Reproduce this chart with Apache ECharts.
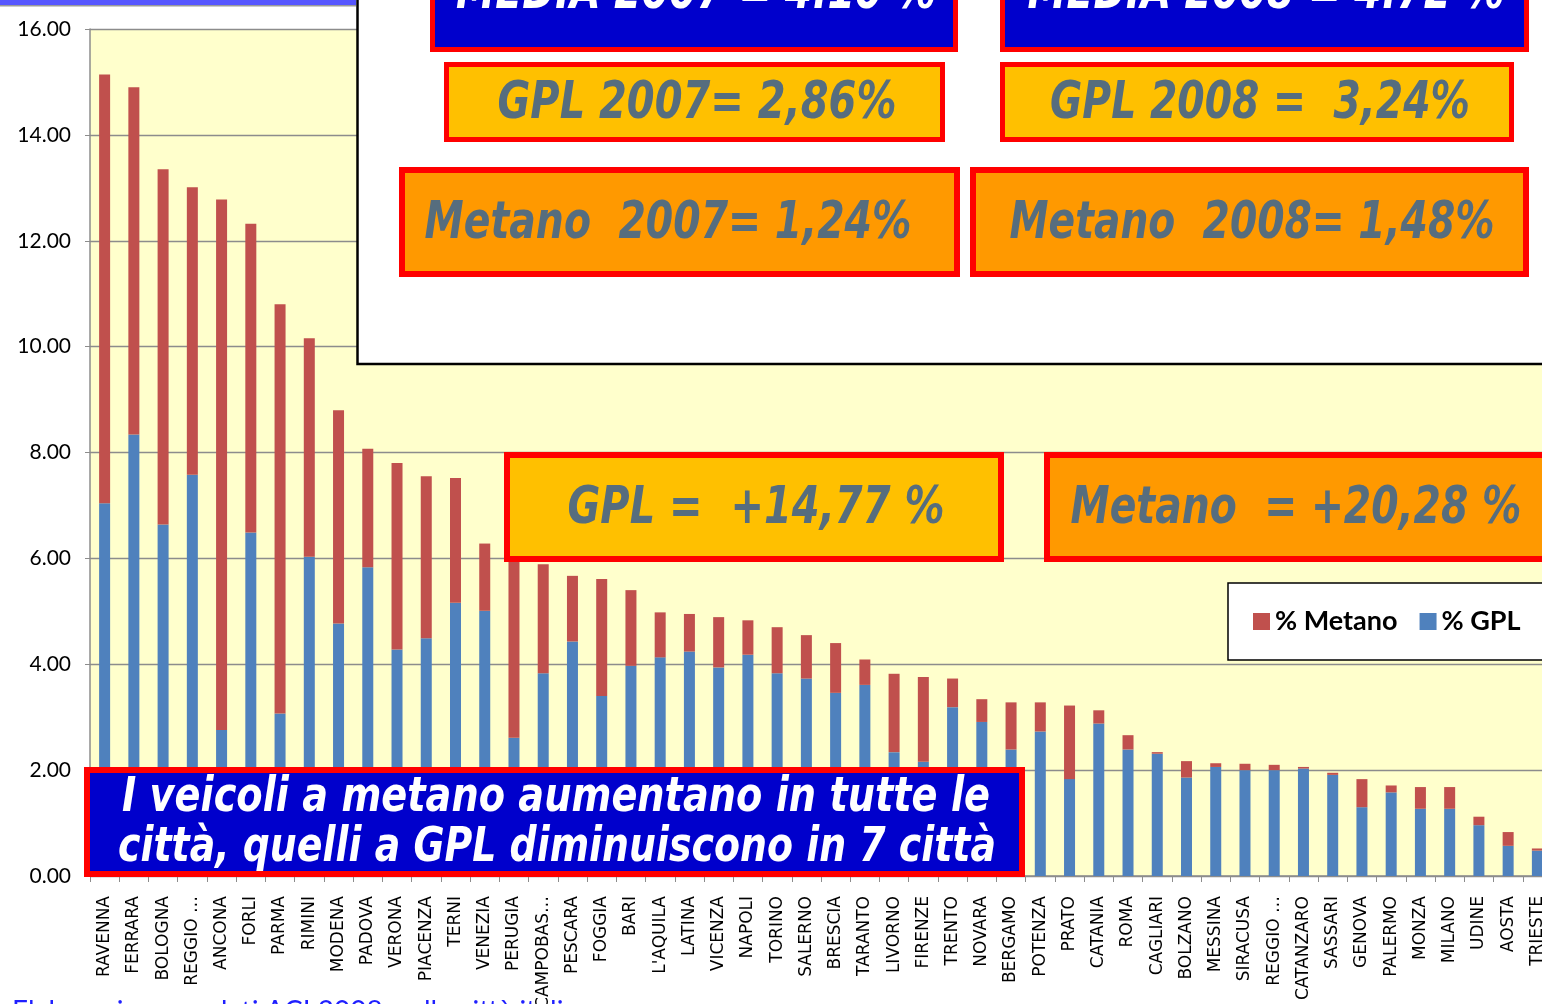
<!DOCTYPE html>
<html>
<head>
<meta charset="utf-8">
<script src="https://cdn.jsdelivr.net/npm/echarts@6/dist/echarts.min.js"></script>
<style>
html,body{margin:0;padding:0;background:#fff;}
#chart{width:1542px;height:1004px;}
</style>
</head>
<body>
<div id="chart"></div>
<script>
var cities = ["RAVENNA","FERRARA","BOLOGNA","REGGIO \u2026","ANCONA","FORLI","PARMA","RIMINI","MODENA","PADOVA","VERONA","PIACENZA","TERNI","VENEZIA","PERUGIA","CAMPOBAS\u2026","PESCARA","FOGGIA","BARI","L'AQUILA","LATINA","VICENZA","NAPOLI","TORINO","SALERNO","BRESCIA","TARANTO","LIVORNO","FIRENZE","TRENTO","NOVARA","BERGAMO","POTENZA","PRATO","CATANIA","ROMA","CAGLIARI","BOLZANO","MESSINA","SIRACUSA","REGGIO \u2026","CATANZARO","SASSARI","GENOVA","PALERMO","MONZA","MILANO","UDINE","AOSTA","TRIESTE"];

var gplValues = [7.04,8.34,6.64,7.58,2.76,6.49,3.07,6.03,4.77,5.83,4.28,4.49,5.16,5.01,2.61,3.83,4.43,3.40,3.97,4.13,4.24,3.94,4.18,3.83,3.73,3.46,3.61,2.34,2.16,3.19,2.91,2.39,2.73,1.83,2.88,2.39,2.31,1.86,2.06,2.00,2.00,2.03,1.91,1.30,1.58,1.27,1.27,0.96,0.57,0.48];

var metanoValues = [8.10,6.56,6.71,5.43,10.02,5.83,7.73,4.13,4.03,2.24,3.52,3.06,2.36,1.27,3.49,2.06,1.24,2.21,1.43,0.85,0.71,0.95,0.65,0.87,0.82,0.94,0.48,1.48,1.60,0.54,0.43,0.89,0.55,1.39,0.25,0.27,0.03,0.31,0.07,0.12,0.10,0.03,0.04,0.53,0.13,0.41,0.41,0.16,0.26,0.04];

var yTicks = {min: 0, max: 16, interval: 2};

var seriesNames = ["% GPL", "% Metano"];
var legendOrder = ["% Metano", "% GPL"];

var chart = echarts.init(document.getElementById('chart'), null, {renderer: 'canvas'});

var measureCtx = document.createElement('canvas').getContext('2d');
var BOXFONT = 'italic bold 51px "DejaVu Sans"';
var BIGFONT = 'italic bold 48px "DejaVu Sans"';
var TXT = '#566D7E';
function box(x1, y1, x2, y2, fill, lw, stroke) {
  return {
    type: 'rect', z: 100,
    shape: {x: x1 + lw / 2, y: y1 + lw / 2, width: x2 - x1 - lw, height: y2 - y1 - lw},
    style: {fill: fill, stroke: stroke || '#FF0000', lineWidth: lw}
  };
}
function txt(s, cx, cy, font, color, targetW) {
  measureCtx.font = font;
  var w = measureCtx.measureText(s).width;
  var sx = targetW ? targetW / w : 1;
  return {
    type: 'text', z: 101, x: cx, y: cy, scaleX: sx,
    style: {text: s, font: font, fill: color, align: 'center', verticalAlign: 'middle'}
  };
}

var option = {
  backgroundColor: '#ffffff',
  animation: false,
  grid: {
    left: 90, top: 29, width: 1462, height: 847,
    show: true, backgroundColor: '#FFFFCC', borderWidth: 0,
    containLabel: false, outerBoundsMode: 'none'
  },
  legend: {
    data: legendOrder,
    left: 1228, top: 583, width: 500,
    orient: 'horizontal',
    backgroundColor: '#ffffff',
    borderColor: '#000000', borderWidth: 1.5,
    padding: [25, 30, 25, 25],
    itemWidth: 17, itemHeight: 17, itemGap: 22,
    icon: 'rect',
    textStyle: {fontFamily: 'Lato', fontWeight: 'bold', fontSize: 27, color: '#000'}
  },
  xAxis: {
    type: 'category',
    data: cities,
    axisLine: {show: true, lineStyle: {color: '#8C8C8C', width: 1.5}},
    axisTick: {show: true, length: 6, lineStyle: {color: '#8C8C8C', width: 1}},
    axisLabel: {interval: 0, rotate: 90, margin: 20, fontFamily: 'DejaVu Sans', fontSize: 17, color: '#000'},
    splitLine: {show: false}
  },
  yAxis: {
    type: 'value',
    min: yTicks.min, max: yTicks.max, interval: yTicks.interval,
    axisLine: {show: true, lineStyle: {color: '#8C8C8C', width: 1.5}},
    axisTick: {show: true, length: 5, lineStyle: {color: '#8C8C8C'}},
    axisLabel: {margin: 19, fontFamily: 'Lato', fontSize: 21, color: '#000',
      formatter: function (v) { return v.toFixed(2); }},
    splitLine: {show: true, lineStyle: {color: '#8C8C8C', width: 1.3}}
  },
  series: [
    {name: seriesNames[0], type: 'bar', stack: 'tot', barWidth: 11, data: gplValues,
     itemStyle: {color: '#4F81BD'}},
    {name: seriesNames[1], type: 'bar', stack: 'tot', barWidth: 11, data: metanoValues,
     itemStyle: {color: '#C0504D'}}
  ],
  graphic: [
    {type: 'rect', z: 100, shape: {x: 0, y: 0, width: 356, height: 5}, style: {fill: '#5656FF'}},
    {type: 'rect', z: 100, shape: {x: 0, y: 5, width: 356, height: 1.5}, style: {fill: '#9A9A9A'}},
    {type: 'rect', z: 99, shape: {x: 357.5, y: -10, width: 1220, height: 374}, style: {fill: '#ffffff', stroke: '#000', lineWidth: 2.5}},
    box(430, -10, 958, 52, '#0000CC', 5),
    txt('MEDIA 2007 = 4.10 %', 696, -5, BOXFONT, '#ffffff', 480),
    box(1000, -10, 1529, 52, '#0000CC', 5),
    txt('MEDIA 2008 = 4.72 %', 1266, -5, BOXFONT, '#ffffff', 477),
    box(444, 62, 945, 142, '#FFC000', 5),
    txt('GPL 2007= 2,86%', 697, 105, BOXFONT, TXT, 399),
    box(1000, 62, 1514, 142, '#FFC000', 5),
    txt('GPL 2008 =  3,24%', 1260, 105, BOXFONT, TXT, 420),
    box(399, 167, 960, 277, '#FF9900', 6),
    txt('Metano  2007= 1,24%', 668, 225, BOXFONT, TXT, 487),
    box(970, 167, 1529, 277, '#FF9900', 6),
    txt('Metano  2008= 1,48%', 1252, 225, BOXFONT, TXT, 485),
    box(504, 452, 1004, 562, '#FFC000', 6),
    txt('GPL =  +14,77 %', 756, 510, BOXFONT, TXT, 377),
    box(1044, 452, 1562, 562, '#FF9900', 6),
    txt('Metano  = +20,28 %', 1296, 510, BOXFONT, TXT, 451),
    box(84, 767, 1025, 877, '#0000CC', 6),
    txt('I veicoli a metano aumentano in tutte le', 556, 799, BIGFONT, '#ffffff', 868),
    txt('città, quelli a GPL diminuiscono in 7 città', 557, 849, BIGFONT, '#ffffff', 878),
    {type: 'text', z: 101, x: 12, y: 1012,
     style: {text: 'Elaborazione su dati ACI 2008, sulle città italiane', font: '28px Lato', fill: '#1F1FFF', align: 'left', verticalAlign: 'middle'}}
  ]
};
chart.setOption(option);
</script>
</body>
</html>
